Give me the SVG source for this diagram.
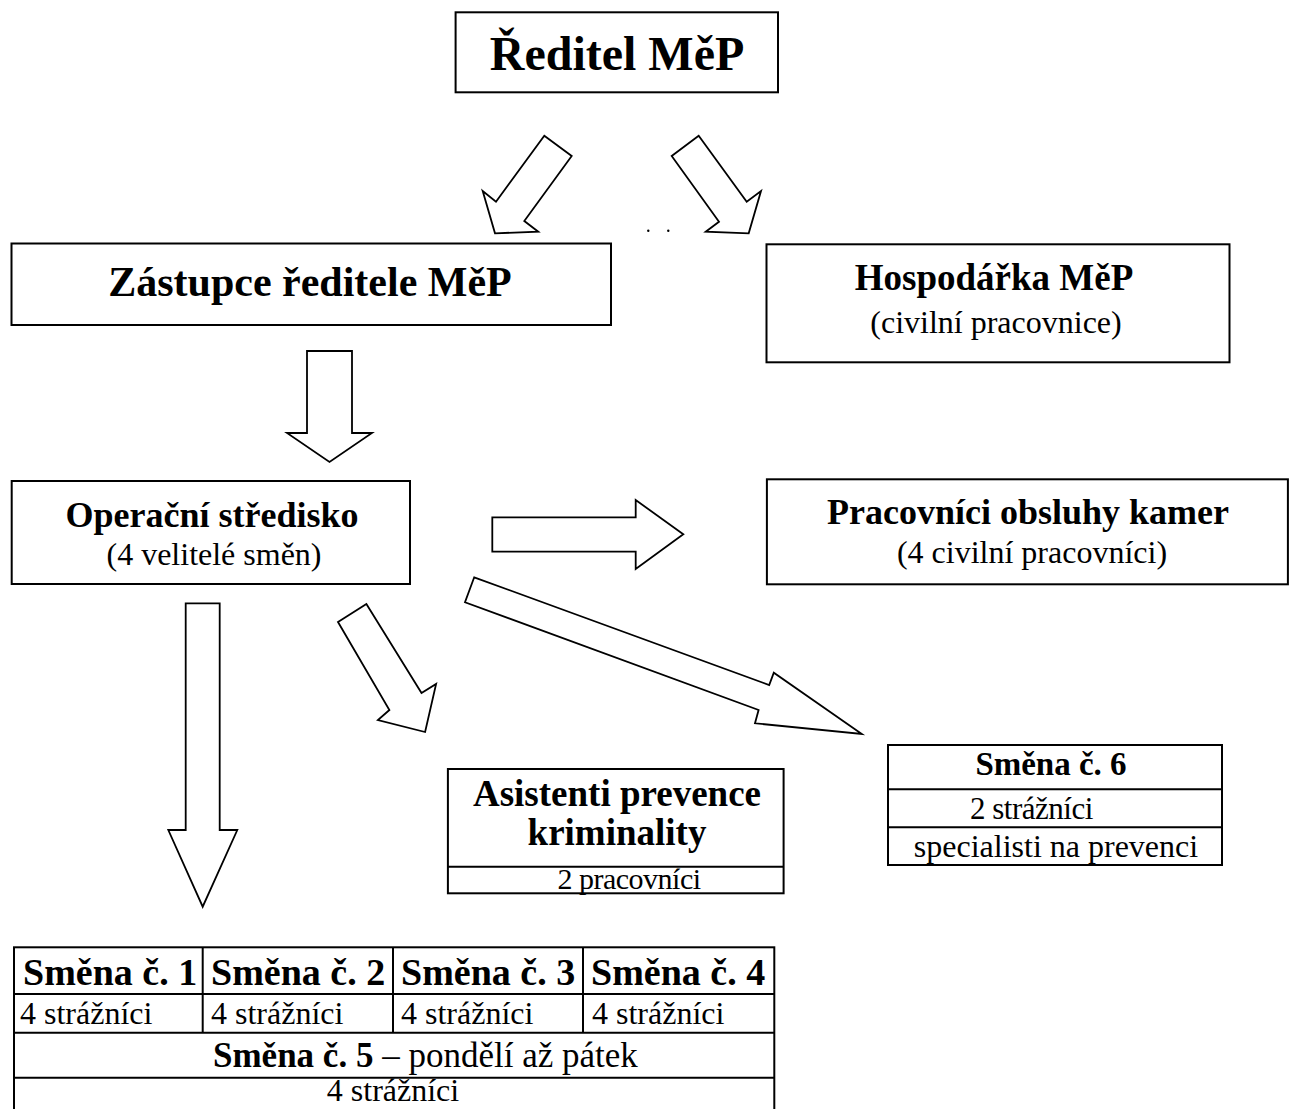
<svg xmlns="http://www.w3.org/2000/svg" width="1300" height="1109" viewBox="0 0 1300 1109">
<style>
.box{fill:#fff;stroke:#000;stroke-width:2}
.ln{stroke:#000;stroke-width:2}
.arr{fill:#fff;stroke:#000;stroke-width:1.8;stroke-linejoin:miter}
text{font-family:"Liberation Serif","Times New Roman",serif;fill:#000}
.b{font-weight:bold}
.c{text-anchor:middle}
</style>
<rect width="1300" height="1109" fill="#fff"/>
<g id="connectors">
<polygon class="arr" points="544.3,135.7 571.7,156 524.3,221 538.3,231.7 495,233.3 482.7,191 496,201.7"/>
<polygon class="arr" points="698.7,135.7 671.7,156 719,221.7 705.7,231.7 748.7,233.3 761,191 746.7,201.7"/>
<polygon class="arr" points="307,351 352,351 352,433 372,433 329.5,462 287,433 307,433"/>
<polygon class="arr" points="492.3,517.3 635.7,517.3 635.7,500 683.3,534.3 635.7,569 635.7,551.7 492.3,551.7"/>
<polygon class="arr" points="185.7,603.3 219.7,603.3 219.7,830 237.3,830 202.7,906.7 168.3,830 185.7,830"/>
<polygon class="arr" points="338,622 366.4,604 421.5,693 436.1,684 425.1,732 377.9,720 389.4,710"/>
<polygon class="arr" points="474.2,577.3 769.2,685 773.8,672.7 861.8,734 755,723.3 758.6,710 465,602.3"/>
<circle cx="648.3" cy="230.7" r="1.2" fill="#000"/>
<circle cx="668.3" cy="230.7" r="1.2" fill="#000"/>
</g>
<g id="reditel">
<rect class="box" x="455.6" y="12.3" width="322.4" height="80"/>
<text class="b c" x="617" y="70" font-size="48">Ředitel MěP</text>
</g>
<g id="zastupce">
<rect class="box" x="11.5" y="243.5" width="599.5" height="81.5"/>
<text class="b c" x="310" y="296" font-size="42">Zástupce ředitele MěP</text>
</g>
<g id="hospodarka">
<rect class="box" x="766.5" y="244.3" width="463" height="118"/>
<text class="b c" x="994" y="290" font-size="37">Hospodářka MěP</text>
<text class="c" x="996" y="333" font-size="32">(civilní pracovnice)</text>
</g>
<g id="operacni">
<rect class="box" x="11.7" y="481" width="398.3" height="103"/>
<text class="b c" x="212" y="527" font-size="36">Operační středisko</text>
<text class="c" x="214" y="565" font-size="32">(4 velitelé směn)</text>
</g>
<g id="pracovnici">
<rect class="box" x="766.9" y="479.3" width="521" height="105"/>
<text class="b c" x="1028" y="524" font-size="36">Pracovníci obsluhy kamer</text>
<text class="c" x="1032" y="563" font-size="32">(4 civilní pracovníci)</text>
</g>
<g id="asistenti">
<rect class="box" x="447.9" y="769" width="335.7" height="124.3"/>
<line class="ln" x1="447.9" y1="866.7" x2="783.6" y2="866.7"/>
<text class="b c" x="617" y="806" font-size="37">Asistenti prevence</text>
<text class="b c" x="617" y="845" font-size="37">kriminality</text>
<text class="c" x="629" y="889" font-size="30" letter-spacing="-0.5">2 pracovníci</text>
</g>
<g id="smena6">
<rect class="box" x="888" y="745" width="334" height="120"/>
<line class="ln" x1="888" y1="789.3" x2="1222" y2="789.3"/>
<line class="ln" x1="888" y1="827.3" x2="1222" y2="827.3"/>
<text class="b c" x="1051" y="775" font-size="33">Směna č. 6</text>
<text x="970" y="819" font-size="31" letter-spacing="-0.5">2 strážníci</text>
<text class="c" x="1056" y="857" font-size="32">specialisti na prevenci</text>
</g>
<g id="smeny">
<rect class="box" x="14" y="947.3" width="760.3" height="170"/>
<line class="ln" x1="14" y1="994" x2="774.3" y2="994"/>
<line class="ln" x1="14" y1="1032.7" x2="774.3" y2="1032.7"/>
<line class="ln" x1="14" y1="1077.7" x2="774.3" y2="1077.7"/>
<line class="ln" x1="202.7" y1="947.3" x2="202.7" y2="1032.7"/>
<line class="ln" x1="393" y1="947.3" x2="393" y2="1032.7"/>
<line class="ln" x1="583" y1="947.3" x2="583" y2="1032.7"/>
<text class="b" x="23" y="985" font-size="38">Směna č. 1</text>
<text class="b" x="211" y="985" font-size="38">Směna č. 2</text>
<text class="b" x="401" y="985" font-size="38">Směna č. 3</text>
<text class="b" x="591" y="985" font-size="38">Směna č. 4</text>
<text x="20" y="1024" font-size="32">4 strážníci</text>
<text x="211" y="1024" font-size="32">4 strážníci</text>
<text x="401" y="1024" font-size="32">4 strážníci</text>
<text x="592" y="1024" font-size="32">4 strážníci</text>
<text x="213" y="1067" font-size="35"><tspan class="b">Směna č. 5</tspan> – pondělí až pátek</text>
<text class="c" x="393" y="1101" font-size="32">4 strážníci</text>
</g>
</svg>
